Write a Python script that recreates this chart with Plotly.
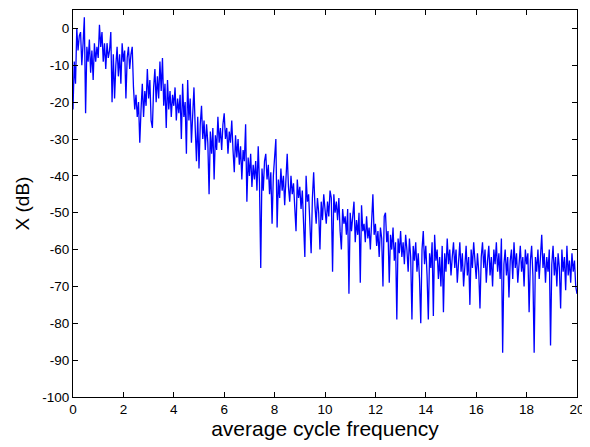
import plotly.graph_objects as go

step = 0.05
db_0 = [-22, -9, -15, 0, -6, -2, -1, -10, -4, 3, -23, -5, -9, -3, -12, -6, -14, -4, -9, -5]
db_1 = [-8, 1, -5, -1, -9, -4, -11, -4, -8, -6, -1, -20, -7, -19, -10, -5, -13, -7, -15, -4]
db_2 = [-9, -6, -19, -8, -5, -11, -7, -5, -16, -22, -18, -24, -20, -31, -22, -15, -24, -17, -21, -11]
db_3 = [-19, -14, -25, -27, -16, -11, -20, -13, -19, -9, -17, -8, -21, -15, -27, -14, -22, -17, -24, -18]
db_4 = [-21, -16, -25, -19, -23, -18, -30, -15, -24, -20, -34, -14, -25, -19, -31, -22, -16, -27, -36, -24]
db_5 = [-38, -26, -21, -30, -25, -33, -26, -31, -45, -28, -34, -27, -41, -29, -33, -24, -31, -27, -33, -26]
db_6 = [-23, -30, -27, -34, -28, -31, -25, -33, -39, -29, -35, -30, -37, -32, -41, -33, -36, -26, -47, -35]
db_7 = [-40, -34, -43, -37, -41, -36, -44, -32, -42, -65, -38, -44, -36, -34, -41, -37, -45, -39, -53, -40]
db_8 = [-36, -30, -54, -41, -46, -38, -44, -40, -48, -39, -34, -43, -47, -40, -45, -42, -48, -55, -41, -46]
db_9 = [-43, -49, -44, -51, -62, -40, -47, -45, -52, -61, -46, -39, -48, -53, -46, -50, -60, -47, -52, -45]
db_10 = [-49, -53, -47, -51, -44, -46, -66, -45, -50, -47, -52, -46, -55, -60, -49, -53, -51, -56, -49, -72]
db_11 = [-50, -55, -51, -47, -58, -52, -56, -50, -69, -48, -55, -53, -58, -51, -57, -54, -60, -52, -45, -56]
db_12 = [-53, -59, -55, -62, -54, -57, -70, -51, -50, -58, -55, -69, -56, -60, -54, -63, -58, -79, -57, -61]
db_13 = [-55, -62, -58, -64, -56, -60, -66, -57, -62, -79, -59, -63, -58, -66, -61, -68, -80, -60, -55, -64]
db_14 = [-59, -67, -79, -61, -65, -58, -78, -56, -63, -60, -68, -62, -70, -59, -77, -61, -66, -57, -64, -60]
db_15 = [-67, -62, -58, -65, -60, -69, -63, -58, -66, -61, -70, -64, -59, -67, -62, -75, -60, -65, -58, -63]
db_16 = [-68, -61, -66, -76, -62, -58, -65, -60, -69, -63, -59, -67, -62, -70, -60, -64, -58, -66, -61, -68]
db_17 = [-57, -88, -64, -60, -67, -62, -73, -63, -60, -68, -58, -65, -61, -69, -63, -59, -66, -62, -70, -60]
db_18 = [-64, -61, -77, -63, -59, -67, -88, -62, -66, -60, -68, -63, -56, -65, -61, -69, -62, -66, -60, -86]
db_19 = [-64, -59, -67, -62, -70, -61, -65, -76, -60, -66, -62, -71, -59, -67, -63, -69, -61, -66, -63, -70]
db_20 = [-72]

values = (db_0 + db_1 + db_2 + db_3 + db_4 + db_5 + db_6 + db_7 + db_8 + db_9 + db_10
          + db_11 + db_12 + db_13 + db_14 + db_15 + db_16 + db_17 + db_18 + db_19 + db_20)
freq = [round(i * step, 2) for i in range(len(values))]

x_ticks = [0, 2, 4, 6, 8, 10, 12, 14, 16, 18, 20]
y_ticks = [0, -10, -20, -30, -40, -50, -60, -70, -80, -90, -100]

fig = go.Figure()
fig.add_trace(go.Scatter(x=freq, y=values, mode="lines",
                         line=dict(color="#0000ff", width=1.3), showlegend=False))

font_family = "Liberation Sans, Arial, Helvetica"
axis_common = dict(showline=True, linecolor="black", linewidth=1, mirror="ticks",
                   ticks="inside", ticklen=5, tickcolor="black", showgrid=False,
                   zeroline=False, automargin=False,
                   tickfont=dict(family=font_family, size=13.5, color="black"))

fig.update_layout(
    width=582, height=439,
    margin=dict(l=65, r=13, t=2, b=50),
    paper_bgcolor="white", plot_bgcolor="white",
    xaxis=dict(range=[0, 20], tickvals=x_ticks, ticktext=[str(v) for v in x_ticks],
               title=dict(text="average cycle frequency", standoff=5,
                          font=dict(family=font_family, size=21, color="black")),
               **axis_common),
    yaxis=dict(range=[-100, 5], tickvals=y_ticks, ticktext=[str(v) for v in y_ticks],
               title=dict(text="X (dB)", standoff=7,
                          font=dict(family=font_family, size=19, color="black")),
               **axis_common),
)

fig.write_html("out.html")
